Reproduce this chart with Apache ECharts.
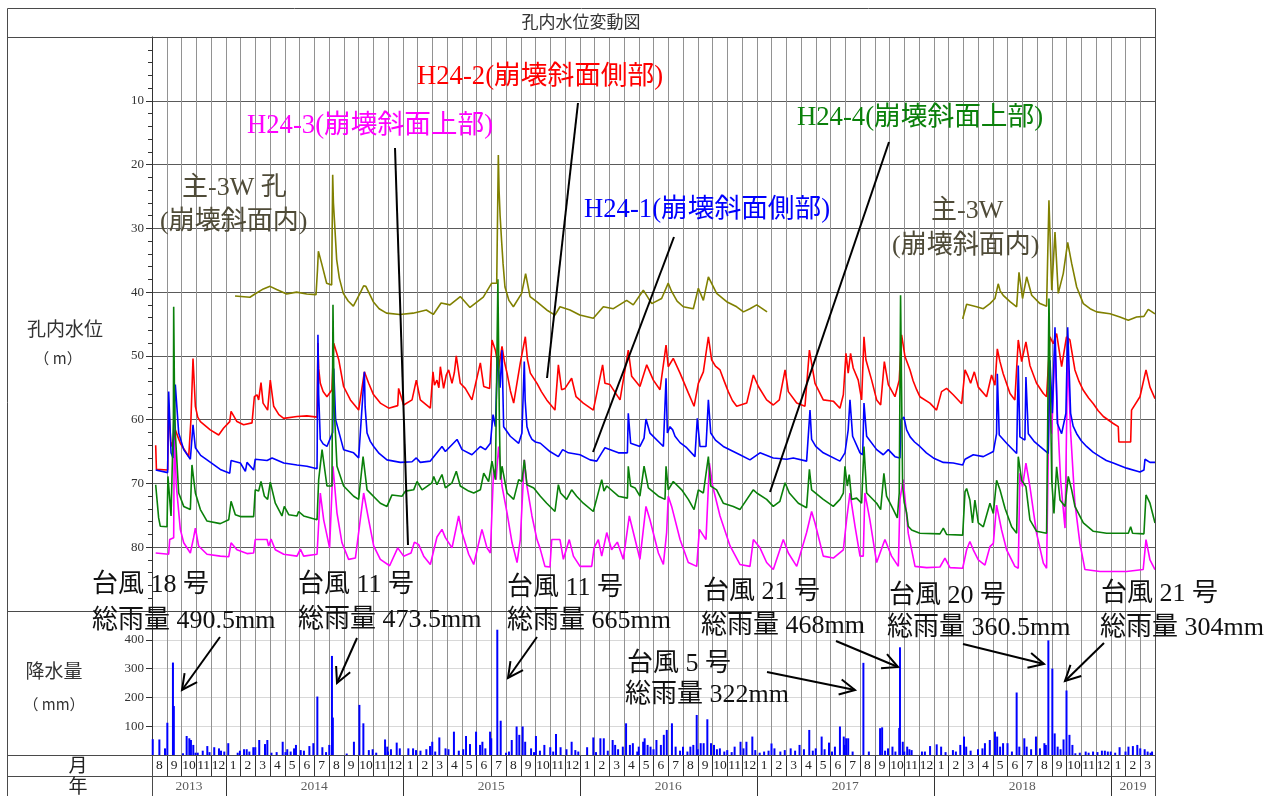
<!DOCTYPE html>
<html>
<head>
<meta charset="utf-8">
<script src="https://cdn.jsdelivr.net/npm/echarts@6/dist/echarts.min.js"></script>
<style>
  html, body { margin: 0; padding: 0; background: #fff; }
  #chart { width: 1282px; height: 796px; }
</style>
</head>
<body>
<div id="chart"></div>
<script>
// x values are months counted from 1 Aug 2013 (0 = 2013-08-01, 68 = 2019-04-01)
// Water level readings (m) per borehole
const levelMain3W_a = [
  [5.63,40.6],[6.64,40.8],[6.98,40.3],[7.55,39.5],[8.0,39.1],[8.45,39.6],[9.13,40.3],[9.8,40.0],[10.49,40.3],[11.12,40.4],
  [11.22,36.5],[11.28,33.6],[11.5,35.5],[11.84,38.6],[12.18,38.9],[12.25,21.6],[12.3,26.0],[12.4,30.0],[12.52,34.9],[12.7,37.8],
  [12.97,40.2],[13.3,41.4],[13.65,42.2],[14.1,40.2],[14.35,39.0],[14.5,39.1],[15.0,41.5],[15.4,42.6],[15.9,43.3],[16.8,43.5],
  [17.7,43.3],[18.6,42.8],[19.07,43.5],[19.6,41.7],[20.2,42.0],[20.9,40.7],[21.56,42.4],[22.46,40.8],[23.03,38.6],[23.37,38.6],
  [23.48,18.5],[23.53,24.0],[23.6,28.0],[23.7,31.9],[23.8,35.5],[23.93,39.2],[24.2,41.3],[24.5,42.3],[25.06,40.2],[25.33,37.1],
  [25.63,40.7],[26.08,41.5],[26.76,42.8],[27.32,43.6],[27.66,42.3],[28.34,42.8],[29.0,43.6],[29.92,44.1],[30.6,42.3],[31.28,42.6],
  [32.18,41.3],[32.63,42.0],[33.31,39.7],[33.88,41.8],[34.55,41.0],[35.0,38.6],[35.23,39.9],[35.6,41.4],[36.02,42.3],[36.7,42.6],
  [37.04,39.4],[37.38,41.3],[37.72,37.6],[38.28,40.2],[38.96,41.5],[39.64,42.3],[40.1,43.1],[40.54,42.6],[41.0,42.0],[41.7,43.1]
];
const levelMain3W_b = [
  [54.96,44.2],[55.1,43.0],[55.23,41.9],[55.57,42.1],[55.9,42.3],[56.36,42.6],[56.81,41.8],[57.15,41.0],[57.37,38.7],[57.5,39.8],
  [57.71,40.5],[58.17,41.5],[58.62,42.3],[58.78,36.9],[59.02,41.0],[59.3,37.6],[59.64,40.5],[60.2,41.8],[60.65,42.2],[60.81,25.6],
  [60.95,36.0],[61.0,39.7],[61.22,30.6],[61.44,40.2],[61.78,37.1],[62.08,32.2],[62.35,35.5],[62.69,39.2],[63.14,41.8],[63.6,42.6],
  [64.04,43.1],[64.95,43.4],[65.62,43.9],[66.19,44.4],[66.75,43.9],[67.25,43.8],[67.54,42.7],[68.0,43.4]
];
const levelH24_2 = [
  [0.25,64.0],[0.3,67.8],[1.06,67.9],[1.13,57.9],[1.29,64.2],[1.47,63.1],[1.58,61.6],[1.92,63.7],[2.49,65.8],[2.64,60.0],
  [2.78,50.4],[2.94,57.9],[3.1,59.6],[3.28,60.3],[3.95,61.6],[4.52,62.4],[4.86,61.3],[5.27,60.3],[5.36,58.7],[5.76,60.3],
  [6.21,60.8],[6.78,60.5],[6.94,56.4],[7.12,56.1],[7.23,56.9],[7.39,54.2],[7.53,57.4],[7.84,58.5],[8.02,53.8],[8.25,57.9],
  [8.6,59.2],[8.93,59.8],[9.83,59.5],[10.5,59.4],[11.19,59.6],[11.25,48.0],[11.3,52.0],[11.41,54.3],[11.6,55.6],[11.86,56.4],
  [12.2,55.3],[12.32,48.0],[12.66,50.6],[12.99,54.8],[13.45,56.9],[14.01,58.5],[14.4,52.5],[14.69,54.3],[15.0,56.0],[15.48,57.4],
  [16.05,58.2],[16.66,57.8],[16.72,55.1],[17.06,57.7],[17.63,56.9],[17.92,53.8],[18.19,56.9],[18.87,58.2],[19.05,52.5],[19.15,54.6],
  [19.32,53.8],[19.45,55.0],[19.55,51.7],[19.77,55.1],[19.95,53.0],[20.11,52.2],[20.34,54.3],[20.5,52.6],[20.63,50.0],[20.9,54.3],
  [21.24,55.1],[21.69,56.9],[22.26,51.1],[22.49,54.8],[22.89,55.1],[23.05,47.5],[23.28,49.1],[23.5,52.0],[23.73,48.5],[23.9,51.0],
  [24.07,52.7],[24.3,55.5],[24.52,57.4],[24.97,51.1],[25.31,47.0],[25.45,50.5],[25.65,52.7],[26.1,54.3],[26.4,55.6],[26.76,56.9],
  [27.32,58.5],[27.55,51.4],[27.77,55.3],[28.0,55.1],[28.45,53.5],[28.75,56.4],[29.24,57.4],[29.92,58.5],[30.55,51.4],[30.71,54.3],
  [31.05,54.5],[31.73,56.9],[32.29,49.1],[32.52,53.2],[33.08,54.8],[33.54,51.4],[33.99,53.8],[34.44,55.3],[34.85,48.3],[35.0,51.7],
  [35.34,50.4],[35.8,52.7],[36.36,55.8],[36.75,57.9],[37.04,54.3],[37.38,52.5],[37.72,47.0],[37.94,50.6],[38.2,51.6],[38.51,52.2],
  [38.8,54.0],[39.07,55.6],[39.35,57.0],[39.64,57.9],[40.32,57.4],[40.77,53.0],[41.11,54.8],[41.67,56.9],[42.12,57.7],[42.53,56.9],
  [42.92,52.2],[43.14,55.6],[43.71,57.4],[44.27,57.9],[44.57,49.1],[44.95,54.3],[45.51,56.9],[46.19,57.1],[46.64,58.2],[46.87,56.1],
  [47.05,49.6],[47.2,52.7],[47.36,49.6],[47.54,51.9],[47.88,53.8],[48.11,56.9],[48.27,47.0],[48.4,50.6],[48.79,53.8],[49.13,56.9],
  [49.4,57.7],[49.65,50.9],[49.92,54.5],[50.37,56.4],[50.66,53.8],[50.82,46.7],[51.05,50.1],[51.39,52.2],[51.6,53.9],[51.84,55.3],
  [52.06,56.4],[52.74,57.4],[53.19,58.5],[53.53,55.6],[53.87,55.1],[54.32,56.1],[54.89,57.5],[55.12,52.2],[55.34,53.3],[55.5,54.3],
  [55.75,52.5],[56.02,54.9],[56.58,56.4],[56.92,53.0],[57.15,54.6],[57.31,48.9],[57.49,50.9],[57.71,52.8],[58.17,55.9],[58.5,56.9],
  [58.73,47.5],[58.96,50.9],[59.25,47.8],[59.52,51.5],[59.97,54.3],[60.43,55.9],[60.65,56.4],[60.88,47.0],[61.1,48.1],[61.33,46.5],
  [61.67,51.7],[62.0,47.0],[62.23,47.5],[62.57,52.2],[62.85,54.0],[63.14,55.4],[63.5,56.6],[63.82,57.5],[64.15,58.6],[64.5,59.5],
  [65.17,60.6],[65.51,61.1],[65.55,63.5],[66.35,63.5],[66.41,58.5],[66.98,56.4],[67.39,52.2],[67.66,54.9],[68.0,56.7]
];
const levelH24_1 = [
  [0.25,67.9],[1.06,68.3],[1.13,55.6],[1.29,65.2],[1.42,66.0],[1.58,54.5],[1.81,62.1],[2.15,64.7],[2.6,66.2],[2.78,60.8],
  [2.94,64.4],[3.3,65.6],[3.73,66.3],[4.63,67.8],[5.27,68.4],[5.36,66.4],[5.99,66.8],[6.33,68.1],[6.44,66.7],[6.89,67.9],
  [7.0,66.2],[7.8,66.4],[8.14,66.0],[8.93,66.8],[9.83,67.1],[9.94,66.8],[10.5,67.3],[11.19,67.7],[11.25,46.7],[11.3,56.0],
  [11.41,63.1],[11.6,63.8],[11.86,64.2],[12.25,62.0],[12.32,52.0],[12.45,60.0],[12.99,64.7],[13.67,65.2],[14.01,66.0],[14.4,52.5],
  [14.45,58.0],[14.58,62.1],[14.8,63.4],[15.03,64.2],[15.4,65.3],[15.93,66.3],[16.84,66.7],[17.63,66.6],[17.92,66.0],[18.19,66.7],
  [18.87,66.5],[19.66,64.2],[19.89,65.0],[20.68,63.1],[21.02,64.7],[21.69,65.5],[22.26,64.2],[22.6,64.7],[22.94,63.7],[23.12,59.2],
  [23.28,61.1],[23.43,50.1],[23.6,55.0],[23.73,49.1],[23.84,61.1],[24.29,62.6],[24.86,63.7],[25.08,62.1],[25.24,50.9],[25.3,57.0],
  [25.42,61.1],[25.6,62.4],[25.76,63.1],[26.0,63.5],[26.33,63.7],[26.98,65.0],[27.55,65.8],[27.84,64.7],[28.23,65.2],[29.02,65.5],
  [29.7,66.3],[30.15,66.5],[30.49,65.2],[30.71,64.4],[31.62,65.2],[32.23,65.2],[32.29,59.0],[32.45,63.7],[33.08,64.2],[33.36,62.9],
  [33.49,59.9],[33.76,62.1],[34.67,64.2],[34.85,53.5],[34.94,62.1],[35.12,61.1],[35.3,61.6],[35.46,62.6],[35.8,63.6],[36.25,64.4],
  [36.81,65.8],[36.97,59.8],[37.15,64.2],[37.56,64.2],[37.72,56.9],[37.88,62.1],[38.2,63.2],[38.73,64.2],[39.86,65.5],[40.54,66.3],
  [41.22,65.2],[42.12,66.0],[43.03,66.2],[43.48,66.0],[44.38,66.5],[44.61,58.5],[44.72,63.1],[45.0,64.2],[45.51,65.2],[46.64,66.5],
  [46.98,65.2],[47.2,61.6],[47.32,56.9],[47.5,62.6],[48.0,65.2],[48.18,65.5],[48.27,57.4],[48.45,62.6],[49.13,64.7],[49.58,65.5],
  [49.92,64.7],[50.37,65.8],[50.71,66.0],[50.78,60.0],[50.98,59.6],[51.16,61.6],[51.4,62.7],[51.7,63.5],[52.06,64.2],[52.5,65.2],
  [52.97,66.0],[53.65,66.7],[54.32,66.8],[54.96,67.1],[55.12,66.2],[55.68,65.5],[56.36,65.8],[57.04,65.0],[57.26,62.2],[57.31,52.8],
  [57.44,62.4],[57.94,63.7],[58.62,65.3],[58.73,51.5],[58.84,62.7],[59.18,63.2],[59.25,53.3],[59.41,62.2],[59.8,63.4],[60.2,64.2],
  [60.76,65.3],[60.88,50.7],[61.04,59.0],[61.22,45.5],[61.38,60.6],[61.67,62.2],[61.96,59.0],[62.08,45.5],[62.28,59.0],[62.45,61.0],
  [62.69,62.2],[63.0,63.3],[63.36,64.2],[63.8,65.1],[64.27,65.8],[64.7,66.4],[65.17,66.8],[66.07,67.6],[66.98,68.2],[67.25,67.9],
  [67.32,66.2],[67.66,66.7],[68.0,66.7]
];
const levelH24_4 = [
  [0.25,70.2],[0.45,75.4],[0.56,76.7],[1.02,76.8],[1.08,68.9],[1.29,75.1],[1.45,60.0],[1.47,42.3],[1.52,55.0],[1.58,62.1],
  [1.81,71.5],[2.15,73.6],[2.6,74.1],[2.71,67.1],[2.94,71.5],[3.28,74.1],[3.73,75.9],[4.63,76.3],[5.2,75.7],[5.36,72.8],
  [5.65,74.9],[5.99,75.2],[6.89,75.2],[7.0,71.0],[7.23,71.2],[7.39,69.7],[7.62,72.0],[7.84,72.5],[8.02,69.8],[8.36,73.1],
  [8.81,75.1],[8.97,73.6],[9.27,74.9],[9.83,75.1],[9.94,74.4],[10.28,75.1],[11.19,75.7],[11.3,69.4],[11.53,64.7],[11.86,70.4],
  [12.2,70.4],[12.27,42.0],[12.35,58.0],[12.54,67.3],[12.99,70.4],[13.67,72.0],[14.01,72.5],[14.31,65.8],[14.58,71.0],[15.48,73.1],
  [15.93,73.6],[16.27,71.8],[16.95,72.0],[17.18,71.2],[17.74,71.0],[17.97,69.7],[18.31,71.0],[18.98,69.9],[19.1,68.9],[19.32,70.2],
  [19.66,68.6],[19.89,70.7],[20.34,69.9],[20.63,68.1],[20.9,70.4],[21.47,71.2],[21.81,71.5],[22.26,71.0],[22.49,68.4],[22.82,69.7],
  [23.05,66.5],[23.28,69.4],[23.45,38.0],[23.55,60.0],[23.62,69.4],[23.73,67.3],[24.07,71.5],[24.52,72.5],[24.86,69.4],[25.08,69.7],
  [25.24,66.3],[25.42,70.2],[25.88,70.7],[26.33,72.0],[26.76,73.1],[27.32,74.4],[27.55,70.2],[27.7,71.5],[28.11,72.5],[28.45,71.0],
  [28.79,72.0],[29.24,73.1],[29.92,74.4],[30.49,69.4],[30.64,71.2],[30.83,70.4],[31.62,72.0],[32.23,72.3],[32.29,67.3],[32.45,70.4],
  [32.75,70.7],[33.08,72.0],[33.36,67.3],[33.65,70.7],[34.33,72.0],[34.78,72.5],[34.85,67.3],[35.0,71.0],[35.34,69.7],[35.91,71.0],
  [36.36,72.5],[36.75,74.1],[37.04,71.0],[37.38,71.5],[37.72,65.8],[37.88,70.4],[38.28,71.0],[38.73,73.1],[39.41,73.6],[39.86,74.1],
  [40.77,71.0],[41.0,71.5],[41.67,72.5],[42.12,73.6],[42.57,72.8],[42.92,69.9],[43.21,71.5],[43.82,73.1],[44.38,73.8],[44.57,67.8],
  [44.72,71.0],[45.51,72.5],[46.19,73.6],[46.64,72.5],[46.87,71.5],[46.98,67.3],[47.14,70.4],[47.27,68.6],[47.43,72.5],[47.77,72.3],
  [48.11,73.1],[48.27,64.2],[48.45,71.5],[49.13,73.1],[49.4,74.1],[49.62,68.4],[49.8,72.0],[50.26,74.1],[50.53,75.4],[50.66,71.5],
  [50.75,40.5],[50.89,70.4],[51.0,73.0],[51.16,74.6],[51.27,76.7],[51.5,77.3],[52.06,77.8],[53.42,77.9],[53.65,77.0],[53.87,78.0],
  [54.96,78.1],[55.12,71.3],[55.23,70.8],[55.45,72.6],[55.63,76.2],[55.79,72.6],[56.02,76.2],[56.36,76.8],[56.81,73.1],[57.04,74.7],
  [57.26,69.5],[57.49,71.0],[57.83,73.9],[58.28,76.8],[58.62,77.8],[58.73,65.8],[58.96,69.5],[59.25,70.5],[59.52,75.7],[59.97,77.5],
  [60.65,77.8],[60.81,41.0],[61.0,69.5],[61.15,74.7],[61.33,67.4],[61.56,72.6],[61.9,73.6],[62.12,68.9],[62.35,71.0],[62.57,73.6],
  [63.14,76.2],[63.82,77.5],[64.72,77.8],[66.19,77.8],[66.35,76.8],[66.48,77.8],[67.25,77.9],[67.39,71.8],[67.66,73.1],[68.0,76.2]
];
const levelH24_3 = [
  [0.25,80.9],[1.13,81.1],[1.2,78.8],[1.47,78.5],[1.51,62.0],[1.65,70.4],[1.92,77.2],[2.15,79.3],[2.6,80.9],[2.82,78.5],
  [2.94,77.0],[3.16,79.8],[3.73,81.1],[4.63,81.4],[5.2,81.5],[5.36,79.3],[5.76,80.4],[6.44,81.0],[6.89,80.9],[7.0,78.8],
  [7.8,78.8],[7.91,79.8],[8.07,78.7],[8.36,80.4],[8.93,81.1],[9.83,81.4],[10.06,80.3],[10.28,81.4],[11.19,81.1],[11.41,71.5],
  [11.64,75.7],[12.04,80.1],[12.27,67.3],[12.54,74.6],[12.88,79.3],[13.33,81.9],[13.79,81.7],[14.35,71.5],[14.69,75.7],[15.03,79.8],
  [15.48,81.9],[16.11,82.9],[16.66,80.1],[17.06,81.4],[17.56,80.9],[17.79,79.2],[18.08,79.6],[18.42,81.4],[18.87,82.7],[19.32,78.4],
  [19.66,77.2],[19.89,78.5],[20.34,80.1],[20.79,75.1],[21.02,77.7],[21.47,81.1],[21.81,82.7],[22.37,77.2],[22.71,80.1],[22.94,80.9],
  [23.16,67.8],[23.33,69.4],[23.5,64.2],[23.73,70.4],[24.07,74.6],[24.41,79.3],[24.75,82.4],[24.97,78.8],[25.24,66.3],[25.42,70.4],
  [25.76,75.1],[26.1,78.8],[26.3,80.1],[26.64,83.0],[26.98,83.1],[27.1,78.8],[27.66,78.8],[27.89,81.9],[28.29,78.8],[28.57,81.4],
  [29.02,83.0],[29.81,83.0],[29.97,80.1],[30.26,78.8],[30.49,81.4],[30.83,77.7],[31.16,80.4],[31.55,79.2],[31.95,81.9],[32.36,75.1],
  [32.86,79.8],[33.08,81.9],[33.49,73.6],[33.76,75.7],[34.33,80.9],[34.67,82.7],[34.89,77.7],[35.0,72.0],[35.23,73.6],[35.8,78.8],
  [36.36,82.4],[36.93,83.0],[37.11,77.2],[37.56,78.8],[37.79,66.8],[38.01,70.4],[38.51,75.1],[39.19,79.8],[39.86,82.7],[40.54,83.0],
  [40.77,78.8],[41.22,80.1],[41.67,82.4],[42.12,83.5],[42.8,78.8],[43.14,80.9],[43.71,83.0],[44.38,77.7],[44.72,74.4],[44.95,76.2],
  [45.51,81.4],[46.19,81.7],[46.87,80.4],[47.09,75.7],[47.32,71.5],[47.66,76.7],[48.0,81.4],[48.22,81.4],[48.33,71.5],[48.67,75.7],
  [49.13,82.4],[49.53,79.8],[49.69,78.8],[50.14,81.4],[50.6,83.0],[50.71,72.5],[50.93,69.4],[51.27,77.8],[51.73,83.0],[52.52,83.2],
  [53.42,83.1],[53.76,81.7],[54.1,83.2],[54.96,83.3],[55.23,80.4],[55.45,79.1],[55.68,80.4],[56.02,82.0],[56.47,82.8],[56.81,79.9],
  [57.04,79.4],[57.26,73.4],[57.6,77.3],[57.94,80.4],[58.5,83.0],[58.73,83.3],[58.84,68.4],[59.02,70.5],[59.25,66.8],[59.52,70.5],
  [59.97,77.8],[60.43,82.5],[60.65,83.3],[60.83,54.9],[61.0,62.2],[61.22,48.0],[61.38,59.0],[61.6,69.5],[61.9,77.0],[62.08,50.0],
  [62.28,62.0],[62.57,73.1],[62.91,79.4],[63.25,83.5],[64.27,83.8],[66.07,83.8],[67.2,83.5],[67.39,78.8],[67.66,82.0],[68.0,83.5]
];
// Daily rainfall (mm)
const rainDaily = [
  [0.05,55],[0.5,54],[0.88,23],[1.04,112],[1.42,321],[1.48,170],[2.1,6],[2.35,66],[2.53,58],[2.64,52],[2.8,35],[2.95,8],
  [3.1,8],[3.44,15],[3.75,31],[3.9,10],[4.22,27],[4.54,23],[4.68,15],[4.9,12],[5.17,41],[5.81,8],[5.96,15],[6.24,20],[6.42,20],
  [6.6,12],[6.87,27],[7.0,27],[7.27,52],[7.66,38],[7.82,52],[8.1,8],[8.45,10],[8.86,46],[9.05,10],[9.17,20],[9.4,12],[9.63,23],
  [9.76,35],[10.08,17],[10.3,15],[10.67,31],[10.94,41],[11.21,203],[11.55,27],[11.8,10],[12.02,35],[12.2,344],[12.26,130],
  [13.2,5],[13.69,46],[14.06,174],[14.33,110],[14.7,17],[14.96,20],[15.2,8],[15.8,54],[15.95,29],[16.0,12],[16.2,20],[16.59,43],
  [16.8,23],[17.38,23],[17.7,23],[17.9,17],[18.2,15],[18.6,20],[18.85,31],[19.0,46],[19.2,12],[19.48,61],[19.9,23],[20.1,20],
  [20.47,81],[20.8,15],[21.1,20],[21.29,66],[21.56,38],[21.97,81],[22.24,35],[22.4,46],[22.6,23],[22.92,81],[23.0,58],[23.41,435],
  [23.64,119],[24.0,8],[24.2,12],[24.39,52],[24.72,99],[24.9,70],[25.13,99],[25.3,46],[25.7,23],[25.9,10],[26.03,66],[26.3,15],
  [26.6,35],[27.0,27],[27.2,12],[27.39,73],[27.7,27],[28.1,20],[28.45,46],[28.7,17],[28.9,12],[29.5,27],[29.92,61],[30.1,10],
  [30.4,58],[30.63,58],[30.9,15],[31.23,52],[31.4,35],[31.6,20],[31.92,29],[32.14,110],[32.4,35],[32.6,41],[32.9,12],[33.0,29],
  [33.3,46],[33.4,58],[33.6,35],[33.8,29],[34.0,20],[34.2,52],[34.5,35],[34.7,70],[34.9,87],[35.25,110],[35.5,29],[35.8,15],
  [36.0,29],[36.3,12],[36.5,29],[36.7,35],[36.93,139],[37.0,20],[37.2,41],[37.4,41],[37.65,124],[37.9,41],[38.1,35],[38.3,20],
  [38.5,23],[38.8,12],[39.0,17],[39.3,10],[39.5,29],[39.9,46],[40.1,23],[40.3,46],[40.7,64],[40.9,17],[41.2,8],[41.5,12],
  [41.8,15],[42.0,40],[42.2,23],[42.6,12],[42.9,17],[43.3,23],[43.6,15],[43.9,35],[44.2,20],[44.56,87],[44.8,15],[45.0,23],
  [45.4,64],[45.6,20],[45.9,43],[46.1,12],[46.3,29],[46.64,99],[46.9,64],[46.95,35],[47.06,58],[47.2,58],[47.5,12],[48.23,320],
  [48.6,12],[49.36,93],[49.5,96],[49.7,15],[49.9,23],[50.2,29],[50.4,12],[50.66,94],[50.71,374],[50.9,46],[51.0,12],[51.2,29],
  [51.35,20],[51.5,17],[52.2,12],[52.4,12],[52.75,31],[53.2,37],[53.5,29],[53.8,10],[54.3,17],[54.5,12],[54.8,35],[55.05,64],
  [55.2,29],[55.5,15],[56.0,20],[56.3,23],[56.47,41],[56.8,52],[57.15,81],[57.3,64],[57.5,29],[57.7,41],[58.0,41],[58.3,12],
  [58.62,217],[58.8,29],[59.14,58],[59.3,29],[59.6,20],[59.93,64],[60.2,23],[60.5,41],[60.6,35],[60.77,398],[61.04,300],[61.2,75],
  [61.4,29],[61.6,20],[61.8,54],[62.0,224],[62.2,70],[62.4,35],[62.6,6],[62.9,8],[63.3,12],[63.5,8],[63.8,12],[64.1,10],
  [64.4,15],[64.6,15],[64.8,12],[65.0,12],[65.3,8],[65.6,27],[66.0,12],[66.2,29],[66.5,31],[66.8,35],[67.0,23],[67.3,20],
  [67.5,12],[67.7,8],[67.8,12]
];
// Calendar rows under the plot
const firstMonth = 8;         // August 2013
const monthCount = 68;        // through March 2019
const yearLabels = ['2013', '2014', '2015', '2016', '2017', '2018', '2019'];
const yearMonths = [5, 12, 12, 12, 12, 12, 3];

const monthLabels = [];
for (let i = 0; i < monthCount; i++) monthLabels.push(String((firstMonth - 1 + i) % 12 + 1));
const yearCenters = [];
const yearBounds = [];
let acc = 0;
yearMonths.forEach((n, i) => {
  yearCenters.push([acc + n / 2, 0.5, yearLabels[i]]);
  acc += n;
  if (i < yearMonths.length - 1) yearBounds.push({ xAxis: acc });
});

const SERIF = '"Liberation Serif", "Noto Sans CJK JP", serif';
const SANS_JP = '"Noto Sans CJK JP", sans-serif';
const C_OLIVE = '#808000', C_RED = '#ff0000', C_BLUE = '#0000ff', C_GREEN = '#0a800a', C_MAG = '#ff00ff';
const C_LABEL_OLIVE = '#4f4b38';

function txt(text, x, y, size, color, family, align) {
  return {
    type: 'text', z: 100,
    style: {
      text: text, x: x, y: y, fill: color,
      font: size + 'px ' + (family || SERIF),
      align: align || 'left', verticalAlign: 'middle',
      textAlign: align || 'left', textVerticalAlign: 'middle'
    }
  };
}
function seg(x1, y1, x2, y2, w, color) {
  return { type: 'line', z: 100, shape: { x1: x1, y1: y1, x2: x2, y2: y2 },
           style: { stroke: color || '#000', lineWidth: w || 2 } };
}
function arrow(x1, y1, x2, y2) {
  const L = 17, a = 0.47;
  const ang = Math.atan2(y1 - y2, x1 - x2);
  const p1 = [x2 + L * Math.cos(ang + a), y2 + L * Math.sin(ang + a)];
  const p2 = [x2 + L * Math.cos(ang - a), y2 + L * Math.sin(ang - a)];
  return [
    seg(x1, y1, x2, y2, 2),
    { type: 'polyline', z: 100, shape: { points: [p1, [x2, y2], p2] },
      style: { stroke: '#000', lineWidth: 2, fill: null } }
  ];
}

const FRAME = '#4a4a4a';
const NAME_SIZE = 26.7;
const graphics = [
  // outer frame and row dividers
  { type: 'rect', z: 90, shape: { x: 7.5, y: 8.5, width: 1148, height: 790 },
    style: { stroke: FRAME, lineWidth: 1, fill: null } },
  seg(7, 37.5, 1155, 37.5, 1, FRAME),
  seg(7, 611.5, 1155, 611.5, 1, FRAME),
  seg(7, 755.5, 1155, 755.5, 1, FRAME),
  seg(7, 776.5, 1155, 776.5, 1, FRAME),
  seg(152.5, 755, 152.5, 796, 1, FRAME),
  // title and row headings
  txt('孔内水位変動図', 581, 22, 17, '#333', SANS_JP, 'center'),
  txt('孔内水位', 65, 329, 19, '#333', SANS_JP, 'center'),
  txt('（ m）', 58, 358, 15, '#333', SANS_JP, 'center'),
  txt('降水量', 54, 671, 19, '#333', SANS_JP, 'center'),
  txt('（ mm）', 54, 704, 15, '#333', SANS_JP, 'center'),
  txt('月', 78, 765, 19, '#222', SANS_JP, 'center'),
  txt('年', 78, 786, 19, '#222', SANS_JP, 'center'),
  // borehole names with leader lines
  txt('H24-2(崩壊斜面側部)', 417, 77, NAME_SIZE, C_RED),
  txt('H24-3(崩壊斜面上部)', 247, 126, NAME_SIZE, C_MAG),
  txt('H24-1(崩壊斜面側部)', 584, 210, NAME_SIZE, C_BLUE),
  txt('H24-4(崩壊斜面上部)', 797, 118, NAME_SIZE, C_GREEN),
  txt('主-3W 孔', 182, 188, 26, C_LABEL_OLIVE),
  txt('(崩壊斜面内)', 160, 222, 26, C_LABEL_OLIVE),
  txt('主-3W', 931, 211, 26, C_LABEL_OLIVE),
  txt('(崩壊斜面内)', 892, 246, 26, C_LABEL_OLIVE),
  seg(395, 148, 408, 545, 2),
  seg(578, 103, 547, 378, 2),
  seg(674, 237, 593, 452, 2),
  seg(889, 142, 770, 492, 2),
  // typhoon notes
  txt('台風 18 号', 92, 585, 26, '#111'),
  txt('総雨量 490.5mm', 92, 621, 26, '#111'),
  txt('台風 11 号', 298, 585, 26, '#111'),
  txt('総雨量 473.5mm', 298, 620, 26, '#111'),
  txt('台風 11 号', 507, 588, 26, '#111'),
  txt('総雨量 665mm', 507, 621, 26, '#111'),
  txt('台風 21 号', 703, 592, 26, '#111'),
  txt('総雨量 468mm', 701, 626, 26, '#111'),
  txt('台風 5 号', 627, 664, 26, '#111'),
  txt('総雨量 322mm', 625, 695, 26, '#111'),
  txt('台風 20 号', 889, 596, 26, '#111'),
  txt('総雨量 360.5mm', 887, 628, 26, '#111'),
  txt('台風 21 号', 1101, 594, 26, '#111'),
  txt('総雨量 304mm', 1100, 628, 26, '#111')
].concat(
  arrow(220, 637, 182, 690),
  arrow(357, 638, 337, 683),
  arrow(537, 637, 508, 678),
  arrow(836, 641, 898, 667),
  arrow(767, 672, 855, 690),
  arrow(963, 644, 1044, 664),
  arrow(1104, 643, 1065, 681)
);

function levelSeries(name, data, color, z) {
  return {
    name: name, type: 'line', xAxisIndex: 0, yAxisIndex: 0, data: data,
    symbol: 'none', showSymbol: false, clip: true, z: z,
    lineStyle: { color: color, width: 1.6 }, itemStyle: { color: color }
  };
}

const monthGridLine = { show: true, lineStyle: { color: '#929292', width: 1 } };
const chart = echarts.init(document.getElementById('chart'), null, { renderer: 'canvas' });
chart.setOption({
  animation: false,
  backgroundColor: '#ffffff',
  grid: [
    { left: 152, top: 37, width: 1003, height: 574 },
    { left: 152, top: 611, width: 1003, height: 144 },
    { left: 152, top: 755, width: 1003, height: 21 },
    { left: 152, top: 776, width: 1003, height: 20 }
  ],
  xAxis: [
    { gridIndex: 0, type: 'value', min: 0, max: monthCount, interval: 1,
      axisLine: { show: false }, axisTick: { show: false }, axisLabel: { show: false }, splitLine: monthGridLine },
    { gridIndex: 1, type: 'value', min: 0, max: monthCount, interval: 1,
      axisLine: { show: false }, axisTick: { show: false }, axisLabel: { show: false }, splitLine: monthGridLine },
    { gridIndex: 2, type: 'category', data: monthLabels, boundaryGap: true,
      axisLine: { show: false }, axisTick: { show: false },
      axisLabel: { inside: true, margin: 4, interval: 0, fontFamily: SERIF, fontSize: 13.5, color: '#222' },
      splitLine: { show: true, interval: 0, lineStyle: { color: '#333', width: 1 } } },
    { gridIndex: 3, type: 'value', min: 0, max: monthCount, show: false }
  ],
  yAxis: [
    { gridIndex: 0, type: 'value', inverse: true, min: 0, max: 90, interval: 10,
      axisLine: { show: true, lineStyle: { color: '#333' } },
      axisTick: { show: true, length: 6, lineStyle: { color: '#333' } },
      minorTick: { show: true, splitNumber: 5, length: 4, lineStyle: { color: '#333' } },
      axisLabel: { fontFamily: SERIF, fontSize: 13, color: '#333', margin: 8,
                   formatter: v => (v > 0 && v < 90) ? String(v) : '' },
      splitLine: { show: true, lineStyle: { color: '#5a5a5a', width: 1 } } },
    { gridIndex: 1, type: 'value', min: 0, max: 500, interval: 100,
      axisLine: { show: true, lineStyle: { color: '#333' } },
      axisTick: { show: true, length: 6, lineStyle: { color: '#333' } },
      axisLabel: { fontFamily: SERIF, fontSize: 13, color: '#333', margin: 8,
                   formatter: v => (v > 0 && v < 500) ? String(v) : '' },
      splitLine: { show: true, lineStyle: { color: '#d8d8d8', width: 1 } } },
    { gridIndex: 2, type: 'value', min: 0, max: 1, show: false },
    { gridIndex: 3, type: 'value', min: 0, max: 1, show: false }
  ],
  graphic: graphics,
  series: [
    levelSeries('H24-3', levelH24_3, C_MAG, 2),
    levelSeries('H24-2', levelH24_2, C_RED, 3),
    levelSeries('H24-1', levelH24_1, C_BLUE, 4),
    levelSeries('H24-4', levelH24_4, C_GREEN, 5),
    levelSeries('主-3W', levelMain3W_a, C_OLIVE, 6),
    levelSeries('主-3W', levelMain3W_b, C_OLIVE, 6),
    { name: '降水量', type: 'bar', xAxisIndex: 1, yAxisIndex: 1, data: rainDaily,
      barWidth: 2, itemStyle: { color: '#0000ff' }, z: 3 },
    { name: '年', type: 'scatter', xAxisIndex: 3, yAxisIndex: 3, data: yearCenters,
      symbol: 'circle', symbolSize: 1, itemStyle: { color: 'rgba(0,0,0,0)' },
      label: { show: true, position: 'inside', formatter: p => p.data[2],
               fontFamily: SERIF, fontSize: 13.5, color: '#333' },
      markLine: { silent: true, symbol: 'none', label: { show: false },
                  lineStyle: { color: '#333', type: 'solid', width: 1 }, data: yearBounds } }
  ]
});
</script>
</body>
</html>
